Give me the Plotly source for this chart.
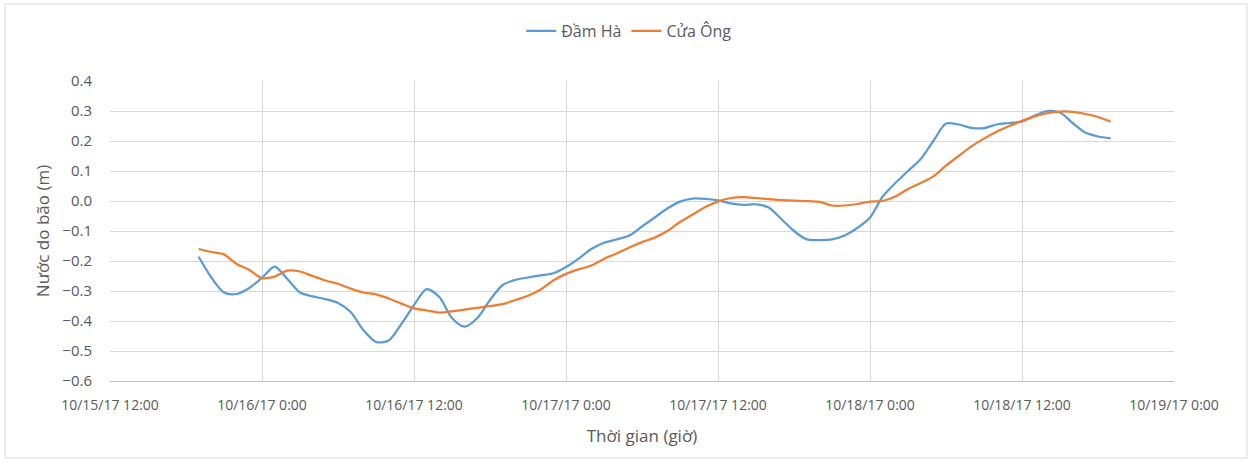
import pandas as pd
import plotly.graph_objects as go

# Hourly observations from 10/15/17 19:00 to 10/18/17 19:00
start_time = "2017-10-15 19:00"
dam_ha = [
    -0.186, -0.255, -0.305, -0.31, -0.29, -0.256, -0.219, -0.26, -0.305, -0.318,
    -0.327, -0.34, -0.37, -0.43, -0.47, -0.465, -0.41, -0.347, -0.294, -0.32,
    -0.39, -0.419, -0.39, -0.33, -0.28, -0.263, -0.255, -0.248, -0.241, -0.22,
    -0.192, -0.16, -0.139, -0.128, -0.115, -0.085, -0.055, -0.025, -0.002, 0.008,
    0.007, 0.002, -0.008, -0.013, -0.011, -0.022, -0.06, -0.1, -0.128, -0.13,
    -0.128, -0.115, -0.09, -0.055, 0.015, 0.06, 0.1, 0.14, 0.2, 0.258,
    0.255, 0.244, 0.243, 0.255, 0.26, 0.265, 0.285, 0.3, 0.295, 0.26,
    0.228, 0.215, 0.209,
]
cua_ong = [
    -0.16, -0.17, -0.178, -0.21, -0.23, -0.257, -0.252, -0.232, -0.235, -0.25,
    -0.265, -0.276, -0.292, -0.305, -0.311, -0.325, -0.342, -0.358, -0.365, -0.372,
    -0.368, -0.362, -0.356, -0.35, -0.344, -0.33, -0.316, -0.295, -0.265, -0.243,
    -0.228, -0.215, -0.193, -0.175, -0.155, -0.137, -0.122, -0.1, -0.07, -0.045,
    -0.02, -0.002, 0.01, 0.013, 0.01, 0.006, 0.003, 0.001, 0.0, -0.003,
    -0.015, -0.015, -0.01, -0.002, 0.0, 0.015, 0.04, 0.06, 0.082, 0.118,
    0.15, 0.182, 0.208, 0.231, 0.25, 0.267, 0.282, 0.293, 0.298, 0.297,
    0.29, 0.28, 0.264,
]
tick_vals = ["2017-10-15 12:00", "2017-10-16 00:00", "2017-10-16 12:00", "2017-10-17 00:00",
             "2017-10-17 12:00", "2017-10-18 00:00", "2017-10-18 12:00", "2017-10-19 00:00"]
tick_text = ["10/15/17 12:00", "10/16/17 0:00", "10/16/17 12:00", "10/17/17 0:00",
             "10/17/17 12:00", "10/18/17 0:00", "10/18/17 12:00", "10/19/17 0:00"]
y_ticks = [0.4, 0.3, 0.2, 0.1, 0.0, -0.1, -0.2, -0.3, -0.4, -0.5, -0.6]

times = pd.date_range(start_time, periods=len(dam_ha), freq="h")

fig = go.Figure()
fig.add_trace(go.Scatter(x=times, y=dam_ha, name="Đầm Hà", mode="lines",
                         line=dict(color="#5B9BD5", width=2.25, shape="spline", smoothing=0.8)))
fig.add_trace(go.Scatter(x=times, y=cua_ong, name="Cửa Ông", mode="lines",
                         line=dict(color="#ED7D31", width=2.25, shape="spline", smoothing=0.8)))

font_family = "Open Sans, Noto Sans, sans-serif"
fig.update_layout(
    width=1252, height=462,
    margin=dict(l=110, r=78, t=81, b=81),
    paper_bgcolor="white", plot_bgcolor="white",
    font=dict(family=font_family, size=14, color="#595959"),
    legend=dict(orientation="h", x=0.488, xanchor="center", y=1.1667, yanchor="middle",
                font=dict(size=16, color="#595959"), traceorder="normal"),
    showlegend=True,
    shapes=[dict(type="rect", xref="paper", yref="paper",
                 x0=(5 - 110) / 1064, x1=(1247 - 110) / 1064,
                 y0=(381 - 458) / 300, y1=(381 - 4) / 300,
                 line=dict(color="#d9d9d9", width=1))],
)
fig.update_xaxes(
    range=[tick_vals[0], tick_vals[-1]], tickvals=tick_vals, ticktext=tick_text,
    showgrid=True, gridcolor="#d9d9d9", gridwidth=1,
    showline=True, linecolor="#bfbfbf", linewidth=1, ticks="",
    tickfont=dict(size=14, color="#595959"), ticklabelstandoff=11,
    title=dict(text="Thời gian (giờ)", font=dict(size=17, color="#595959"), standoff=17),
)
fig.update_yaxes(
    range=[-0.6, 0.4], tickvals=y_ticks, tickformat=".1f",
    showgrid=True, gridcolor="#d9d9d9", gridwidth=1, zeroline=False,
    showline=False, ticks="",
    tickfont=dict(size=15, color="#595959"), ticklabelstandoff=17,
    title=dict(text="Nước do bão (m)", font=dict(size=17, color="#595959"), standoff=8),
)
fig.write_html("out.html", config={"displayModeBar": False},
               post_script="document.body.style.margin='0px';")
